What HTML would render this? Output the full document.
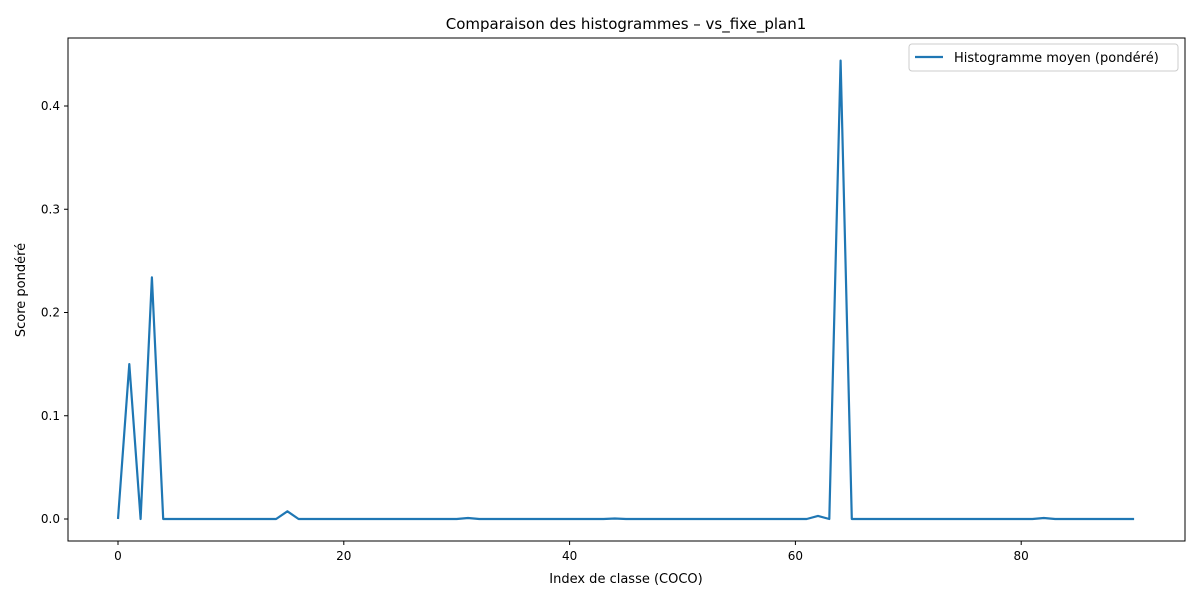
<!DOCTYPE html>
<html><head><meta charset="utf-8"><style>
body{margin:0;background:#fff;font-family:"Liberation Sans","DejaVu Sans",sans-serif;}
svg text{font-family:"DejaVu Sans","Liberation Sans",sans-serif;}
</style></head><body>
<svg id="chart" width="1200" height="600">
<rect x="0" y="0" width="1200" height="600" fill="#fff"/>
<text x="626" y="29" font-size="15" text-anchor="middle">Comparaison des histogrammes – vs_fixe_plan1</text>
<g id="axes"></g>
<path id="line" fill="none" stroke="#1f77b4" stroke-width="2.2" stroke-linejoin="round"/>
<rect x="68" y="38" width="1117" height="503" fill="none" stroke="#000" stroke-width="1"/>
<text x="626" y="583" font-size="13" text-anchor="middle">Index de classe (COCO)</text>
<text x="25" y="290" font-size="13" text-anchor="middle" transform="rotate(-90 25 290)">Score pondéré</text>
<g>
<rect x="909" y="44" width="269" height="27" rx="3" fill="#fff" stroke="#ccc"/>
<line x1="915" y1="57" x2="943" y2="57" stroke="#1f77b4" stroke-width="2.2"/>
<text x="954" y="62" font-size="13">Histogramme moyen (pondéré)</text>
</g>
</svg>
<script>
const xTicks=[0,20,40,60,80];
const yTicks=[0,0.1,0.2,0.3,0.4];
const yTickLabels=["0.0","0.1","0.2","0.3","0.4"];
const spikeIdx=[1,3,15,31,44,62,64,82];
const spikeVal=[0.150,0.234,0.0075,0.001,0.0005,0.003,0.444,0.001];
const nClasses=91;
const xs=v=>118+v*11.29;
const ys=v=>519-v*1032.5;
const ns="http://www.w3.org/2000/svg";
const ax=document.getElementById('axes');
function mk(tag,attrs,txt){const e=document.createElementNS(ns,tag);for(const k in attrs)e.setAttribute(k,attrs[k]);if(txt!==undefined)e.textContent=txt;ax.appendChild(e);return e;}
xTicks.forEach(t=>{
 const l=mk('line',{x1:xs(t),x2:xs(t),y1:541,y2:545,stroke:'#000'});
 
 
 const tx=mk('text',{x:xs(t),y:560,'font-size':12,'text-anchor':'middle'},String(t));
 
 
});
yTicks.forEach((t,i)=>{
 const l=mk('line',{x1:64,x2:68,y1:ys(t),y2:ys(t),stroke:'#000'});
 
 
 const tx=mk('text',{x:60,y:ys(t)+4,'font-size':12,'text-anchor':'end'},yTickLabels[i]);
 
 
});
const vals=new Array(nClasses).fill(0);
spikeIdx.forEach((k,i)=>vals[k]=spikeVal[i]);
document.getElementById('line').setAttribute('d',vals.map((v,i)=>(i?'L':'M')+xs(i).toFixed(1)+','+ys(v).toFixed(1)).join(''));
</script>
</body></html>
